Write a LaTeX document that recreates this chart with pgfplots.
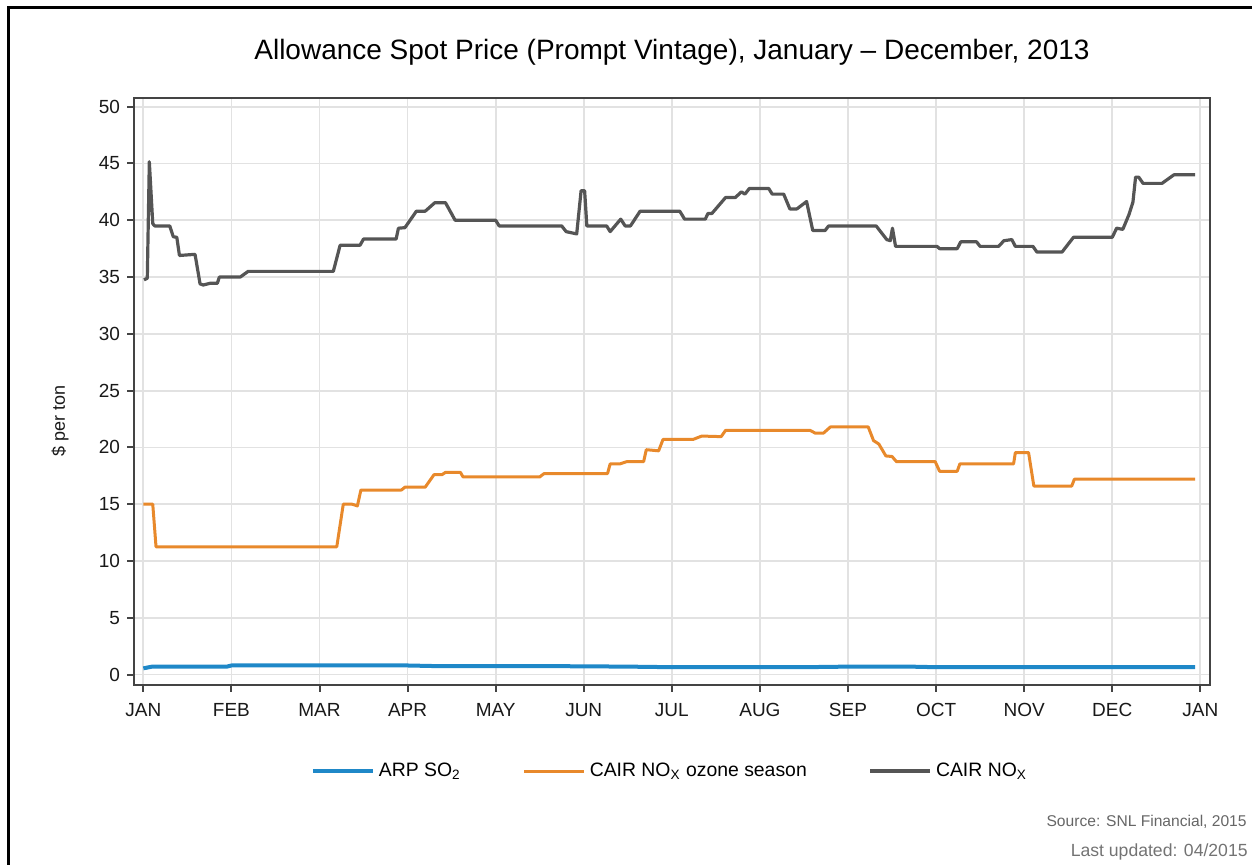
\documentclass[border=0pt]{standalone}
\usepackage{fontspec}
\setmainfont{Liberation Sans}
\usepackage{pgfplots}
\pgfplotsset{compat=1.18}
\definecolor{arpblue}{HTML}{1F88C8}
\definecolor{cairorange}{HTML}{E8892B}
\definecolor{cairgray}{HTML}{555555}
\definecolor{gridgray}{HTML}{E2E2E2}
\definecolor{spine}{HTML}{444444}
\begin{document}
\begin{tikzpicture}[x=0.5pt,y=0.5pt]
\path[use as bounding box] (0,0) rectangle (1252,865);
\draw[line width=1.5pt,black] (8,0) -- (8,857) -- (1252,857);
\node[font=\fontsize{14}{16}\selectfont, text=black] at (672,813) {Allowance Spot Price (Prompt Vintage), January -- December, 2013};
\node[anchor=east, inner sep=0pt, font=\fontsize{7.8}{9}\selectfont, text=black!60] at (1247,43) {Source: SNL Financial, 2015};
\node[anchor=east, inner sep=0pt, font=\fontsize{8.8}{10}\selectfont, text=black!55] at (1248,13) {Last updated: 04/2015};
\begin{axis}[
  at={(67pt,90.1pt)}, anchor=south west,
  scale only axis, width=538pt, height=293.25pt,
  xmin=-0.106, xmax=12.11, ymin=-0.9, ymax=50.74,
  xtick={0,1,2,3,4,5,6,7,8,9,10,11,12},
  xticklabels={JAN,FEB,MAR,APR,MAY,JUN,JUL,AUG,SEP,OCT,NOV,DEC,JAN},
  ytick={0,5,10,15,20,25,30,35,40,45,50},
  xtick pos=lower, ytick pos=left,
  grid=major, major grid style={draw=gridgray, line width=0.9pt},
  axis line style={draw=spine, line width=1pt},
  tick style={draw=spine, line width=1pt},
  tick align=outside, major tick length=3.5pt,
  xticklabel shift=2pt,
  /pgf/number format/assume math mode=true,
  ticklabel style={font=\fontsize{9.5}{11}\selectfont, text=black!90},
  xticklabel style={text height=7pt, text depth=0pt},
  ylabel={\$ per ton},
  ylabel style={font=\fontsize{9}{11}\selectfont, text=black!90, at={(axis description cs:-0.0688,0.45)}, anchor=center},
  legend style={at={(axis description cs:0.499,-0.147)}, anchor=center, legend columns=3, draw=none, fill=none,
    font=\fontsize{9.7}{11}\selectfont, /tikz/every even column/.append style={column sep=29pt}},
  legend image code/.code={\draw[#1] (0pt,0pt) -- (30pt,0pt);},
  every axis plot/.append style={no markers, line join=round},
]
\addplot[arpblue, line width=2pt] coordinates {
(0,0.55) (0.1,0.7) (0.95,0.7) (1.0,0.8) (3.0,0.8) (3.3,0.75) (4.5,0.75) (5.5,0.7) (6.0,0.65) (7.5,0.65) (8.0,0.7) (8.7,0.7) (9.0,0.65) (11.94,0.65)
};
\addlegendentry{ARP SO\textsubscript{2}}
\addplot[cairorange, line width=1.5pt] coordinates {
(0,15.0) (0.107,15.0) (0.144,11.25) (2.196,11.25) (2.27,15.0) (2.37,15.0) (2.43,14.85) (2.47,16.25) (2.93,16.25) (2.97,16.5) (3.20,16.5) (3.30,17.6) (3.39,17.6) (3.43,17.8) (3.60,17.8) (3.63,17.4)
(4.50,17.4) (4.55,17.7) (5.27,17.7) (5.30,18.55) (5.41,18.55) (5.49,18.75) (5.68,18.75) (5.71,19.8) (5.85,19.7) (5.90,20.7) (6.24,20.7) (6.34,21.0) (6.56,20.95) (6.61,21.5) (7.57,21.5) (7.63,21.25) (7.72,21.25) (7.80,21.8) (8.23,21.8) (8.29,20.6) (8.35,20.3) (8.43,19.25) (8.50,19.2) (8.55,18.75)
(8.99,18.75) (9.04,17.9) (9.24,17.9) (9.27,18.55) (9.88,18.55) (9.90,19.55) (10.05,19.55) (10.11,16.6) (10.54,16.6) (10.57,17.2) (11.94,17.2)
};
\addlegendentry{CAIR NO\textsubscript{X} ozone season}
\addplot[cairgray, line width=1.6pt] coordinates {
(0.008,34.75) (0.045,34.9) (0.068,45.15) (0.107,39.7) (0.13,39.5) (0.30,39.5) (0.34,38.55) (0.38,38.5) (0.41,36.9) (0.587,37.0) (0.644,34.4) (0.68,34.3) (0.757,34.45) (0.84,34.45) (0.863,35.0) (1.10,35.0) (1.19,35.5)
(2.157,35.5) (2.234,37.8) (2.46,37.8) (2.50,38.35) (2.87,38.35) (2.896,39.3) (2.97,39.35) (3.10,40.8) (3.20,40.8) (3.31,41.55) (3.43,41.55) (3.54,40.0)
(4.0,40.0) (4.04,39.5) (4.75,39.5) (4.80,39.0) (4.92,38.8) (4.97,42.6) (5.01,42.6) (5.035,39.5) (5.26,39.5) (5.30,39.0) (5.42,40.1) (5.47,39.5) (5.53,39.5) (5.64,40.8) (6.09,40.8) (6.145,40.1) (6.38,40.1) (6.41,40.6) (6.455,40.6) (6.61,42.0) (6.72,42.0) (6.79,42.5) (6.83,42.3) (6.88,42.8) (7.10,42.8) (7.14,42.3) (7.27,42.3) (7.34,41.0) (7.42,41.0) (7.53,41.65) (7.60,39.1) (7.74,39.1) (7.78,39.5)
(8.32,39.5) (8.44,38.3) (8.48,38.2) (8.505,39.3) (8.54,37.7) (9.01,37.7) (9.04,37.5) (9.24,37.5) (9.28,38.1) (9.46,38.1) (9.50,37.7) (9.71,37.7) (9.77,38.2) (9.86,38.3) (9.90,37.7) (10.10,37.7) (10.145,37.2) (10.43,37.2) (10.56,38.5) (11.0,38.5) (11.05,39.3) (11.12,39.2) (11.19,40.5) (11.235,41.6) (11.265,43.8) (11.30,43.8) (11.35,43.25) (11.565,43.25) (11.70,44.0) (11.94,44.0)
};
\addlegendentry{CAIR NO\textsubscript{X}}
\end{axis}
\end{tikzpicture}
\end{document}
